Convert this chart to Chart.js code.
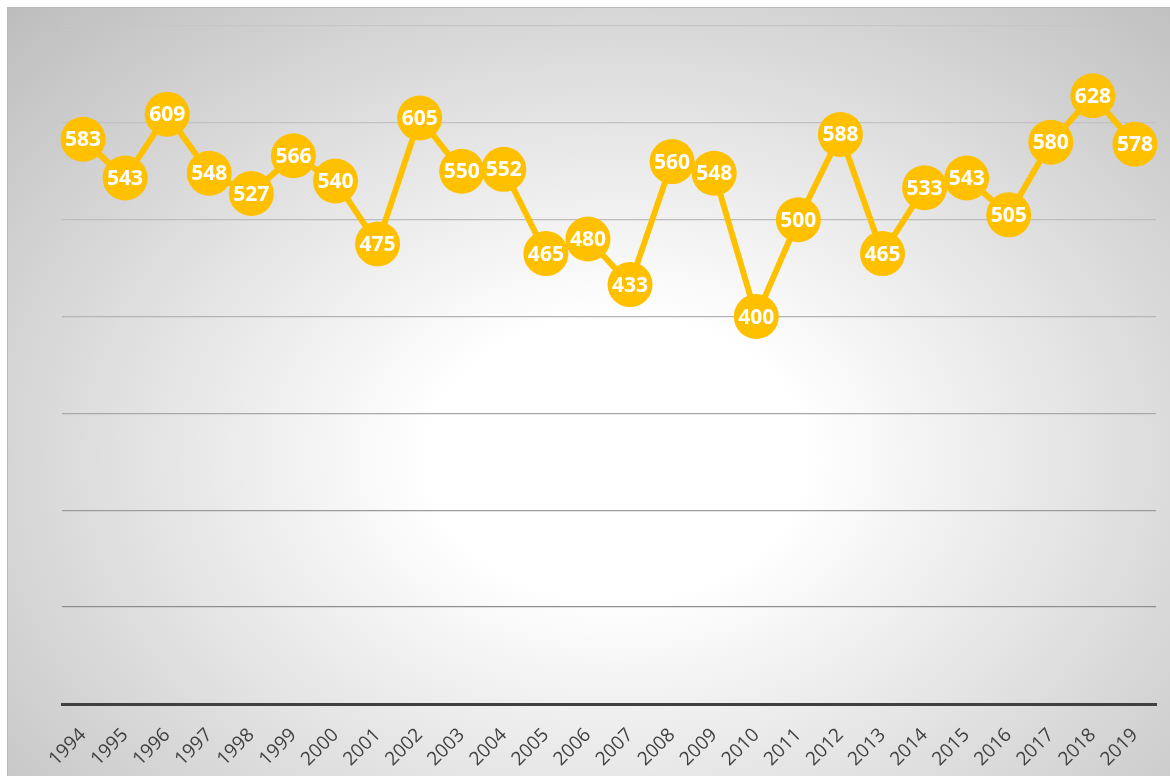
<!DOCTYPE html>
<html>
<head>
<meta charset="utf-8">
<script src="https://cdn.jsdelivr.net/npm/chart.js@4"></script>
<style>
  html, body { margin: 0; padding: 0; background: #fff; overflow: hidden; }
  #box {
    position: absolute; left: 7px; top: 7px; width: 1170px; height: 776px;
    border-top: 1px solid #b8b8b8; border-left: 1px solid #b8b8b8;
    background: radial-gradient(ellipse farthest-corner at 52% 58%, #ffffff 0%, #ffffff 22%, #bdbdbd 100%);
  }
  #wrap { position: absolute; left: 0; top: 0; width: 1163px; height: 769px; }
</style>
</head>
<body>
<div id="box"><div id="wrap"><canvas id="chart"></canvas></div></div>
<script>
const years = ["1994","1995","1996","1997","1998","1999","2000","2001","2002","2003","2004","2005","2006",
  "2007","2008","2009","2010","2011","2012","2013","2014","2015","2016","2017","2018","2019"];
const values = [583,543,609,548,527,566,540,475,605,550,552,465,480,433,560,548,400,500,588,465,533,543,505,580,628,578];
const gridColors = ["rgba(0,0,0,0)","#8e8e8e","#9c9c9c","#a9a9a9","#b4b4b4","#bcbcbc","#c2c2c2","#c6c6c6"];

// draws the white value inside every circle
const valueLabels = {
  id: "valueLabels",
  afterDatasetsDraw(chart) {
    const ctx = chart.ctx;
    const meta = chart.getDatasetMeta(0);
    ctx.save();
    ctx.fillStyle = "#fff";
    ctx.font = "bold 21px 'Open Sans'";
    ctx.textAlign = "center";
    ctx.textBaseline = "middle";
    meta.data.forEach((p, i) => {
      ctx.fillText(chart.data.datasets[0].data[i], p.x, p.y + 1);
    });
    ctx.restore();
  }
};

new Chart(document.getElementById("chart"), {
  type: "line",
  data: {
    labels: years,
    datasets: [{
      data: values,
      borderColor: "#FFC000",
      borderWidth: 6,
      pointRadius: 22.5,
      pointHoverRadius: 22.5,
      pointBackgroundColor: "#FFC000",
      pointBorderWidth: 0,
      tension: 0,
      clip: false
    }]
  },
  options: {
    responsive: true,
    maintainAspectRatio: false,
    animation: false,
    layout: { autoPadding: false, padding: { left: 54, right: 15, top: 18, bottom: 0 } },
    plugins: { legend: { display: false }, tooltip: { enabled: false } },
    scales: {
      x: {
        offset: true,
        grid: { display: false },
        border: { color: "#404040", width: 3 },
        ticks: {
          color: "#404040",
          font: { family: "'Open Sans'", size: 19 },
          minRotation: 45, maxRotation: 45,
          padding: 12,
          autoSkip: false
        },
        afterFit(s) { s.height = 73; s.paddingLeft = 0; s.paddingRight = 0; }
      },
      y: {
        min: 0, max: 700,
        ticks: { display: false, stepSize: 100 },
        border: { display: false },
        grid: {
          drawTicks: false,
          color: c => gridColors[c.index] || "#c6c6c6",
          lineWidth: 1.3
        },
        afterFit(s) { s.width = 0; }
      }
    }
  },
  plugins: [valueLabels]
});
</script>
</body>
</html>
